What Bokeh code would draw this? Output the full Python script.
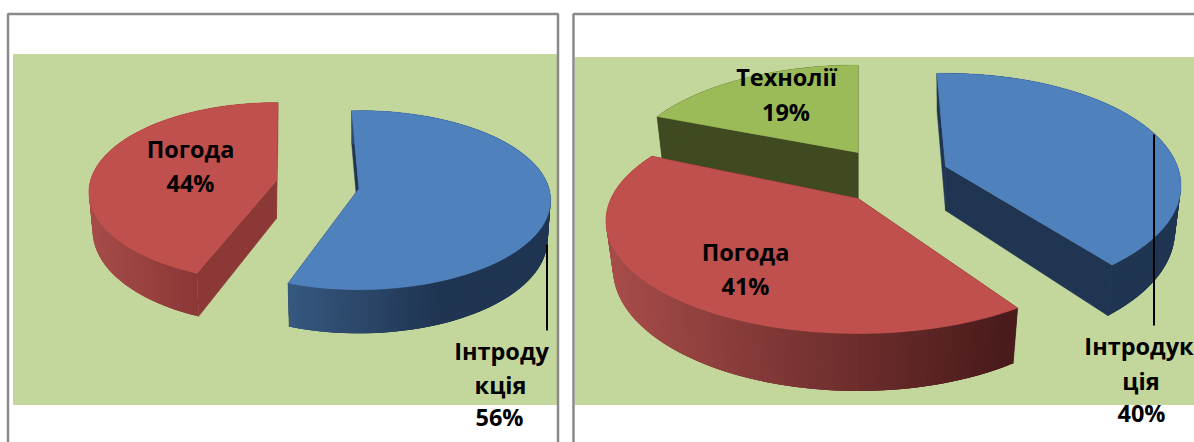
import math
from bokeh.plotting import figure
from bokeh.models import Range1d
from bokeh.core.properties import value
from bokeh.embed import file_html
from bokeh.resources import INLINE

left_categories = ["Інтродукція", "Погода"]
left_values = [56, 44]
right_categories = ["Інтродукція", "Погода", "Технології"]
right_values = [40, 41, 19]

FONT = "Open Sans"
BG = "#C3D69B"
FRAME = "#8A8A8A"
BLUE, RED, GREEN = "#4F81BD", "#C0504D", "#9BBB59"
BLUE_D, GREEN_D = "#1F3552", "#3F4A21"


def hex2rgb(c):
    return tuple(int(c[i:i + 2], 16) for i in (1, 3, 5))


def mix(c0, c1, f):
    f = max(0.0, min(1.0, f))
    a, b = hex2rgb(c0), hex2rgb(c1)
    return "#%02x%02x%02x" % tuple(round(a[i] + (b[i] - a[i]) * f) for i in range(3))


p = figure(width=1194, height=442, x_range=Range1d(0, 1194), y_range=Range1d(442, 0),
           output_backend="svg", toolbar_location=None, min_border=0,
           background_fill_color="white", border_fill_color="white",
           styles={"position": "absolute", "left": "0px", "top": "0px"})
p.axis.visible = False
p.grid.visible = False
p.outline_line_color = None

# panels
p.quad(left=[13, 575], right=[557, 1194], top=[54, 57], bottom=[404, 404], color=BG)
p.line([7.5, 7.5, 557.5, 557.5], [442, 13.5, 13.5, 442], line_color=FRAME, line_width=2.5)
p.line([573, 573, 1194], [442, 13.5, 13.5], line_color=FRAME, line_width=2.5)


def draw_slice(share, start, geo):
    ax, ay, rx, ry, persp, depth, shrink = geo["ax"], geo["ay"], geo["rx"], geo["ry"], geo["p"], geo["d"], geo["b"]
    start = start + geo.get("rot", 0)
    span = share / 100 * 360
    n = max(10, int(span / 1.2))
    ts = [math.radians(start + span * i / n) for i in range(n + 1)]

    def top(t):
        u, v = math.sin(t), -math.cos(t)
        w = 1 - persp * v
        return ax + rx * u / w, ay + ry * v / w

    def low(t):
        u, v = math.sin(t), -math.cos(t)
        w = 1 - persp * v
        return ax + rx * shrink * u / w, ay + (ry * v + depth) / w

    # side walls from the apex to both cut edges
    walls_x, walls_y = [], []
    for t in (ts[0], ts[-1]):
        tx, ty = top(t)
        lx, ly = low(t)
        walls_x.append([ax, tx, lx, ax])
        walls_y.append([ay, ty, ly, ay + depth])
    p.patches(walls_x, walls_y, fill_color=geo["wall"], line_color=geo["wall"], line_width=0.5)

    # outer rim, shaded along the horizontal; overlapping bands hide the seams
    xs, ys, cols = [], [], []
    for i in range(n):
        a, b = ts[i], ts[min(i + 3, n)]
        ta, tb, la, lb = top(a), top(b), low(a), low(b)
        xs.append([ta[0], tb[0], lb[0], la[0]])
        ys.append([ta[1], tb[1], lb[1], la[1]])
        f = (ta[0] - geo["g0"]) / (geo["g1"] - geo["g0"])
        cols.append(mix(geo["c0"], geo["c1"], f))
    p.patches(xs, ys, fill_color=cols, line_color=None)

    # upper face
    pts = [top(t) for t in ts]
    p.patch([ax] + [q[0] for q in pts], [ay] + [q[1] for q in pts],
            fill_color=geo["face"], line_color=geo["face"], line_width=0.5)
    return start + span


left_geo = {
    "Інтродукція": dict(ax=358.5, ay=188, rx=190, ry=88, p=0.13, d=38, b=0.985, rot=-1.5, face=BLUE, wall=BLUE_D,
                        c0="#36587F", c1=BLUE_D, g0=291, g1=440),
    "Погода": dict(ax=276, ay=180, rx=186, ry=88, p=0.13, d=38, b=0.98, rot=1.5, face=RED, wall="#8C3836",
                   c0="#A64C49", c1="#8C3836", g0=90, g1=197),
}
right_geo = {
    "Технології": dict(ax=857.5, ay=152, rx=232, ry=105, p=0.2, d=46, b=0.975, face=GREEN, wall=GREEN_D,
                       c0=GREEN_D, c1=GREEN_D, g0=600, g1=900),
    "Погода": dict(ax=857.5, ay=198, rx=247, ry=108, p=0.2, d=46, b=0.972, rot=3.5, face=RED, wall="#4A1B1B",
                   c0="#A64C49", c1="#4A1B1B", g0=612, g1=1008),
    "Інтродукція": dict(ax=945, ay=166, rx=232, ry=109, p=0.17, d=44, b=0.975, rot=-2.5, face=BLUE, wall=BLUE_D,
                        c0=BLUE_D, c1=BLUE_D, g0=900, g1=1200),
}

# left pie: blue first clockwise from the top, red after it
angle = -1.0
angles = {}
for c, v in zip(left_categories, left_values):
    angles[c] = angle
    angle += v * 3.6
for c in reversed(left_categories):
    draw_slice(left_values[left_categories.index(c)], angles[c], left_geo[c])

# right pie: painted back to front
angle = 0.0
angles = {}
for c, v in zip(right_categories, right_values):
    angles[c] = angle
    angle += v * 3.6
for c in ["Технології", "Погода", "Інтродукція"]:
    draw_slice(right_values[right_categories.index(c)], angles[c], right_geo[c])

# leader lines
p.line([546.5, 546.5], [244, 330], line_color="black", line_width=2)
p.line([1153.5, 1153.5], [134, 325], line_color="black", line_width=2)

# labels
labels = [
    ("Погода", 190, 148), (f"{left_values[1]}%", 190, 182),
    ("Інтроду", 501, 350), ("кція", 500, 384), (f"{left_values[0]}%", 499, 416),
    ("Технолії", 786, 76), (f"{right_values[2]}%", 785.5, 111),
    ("Погода", 745, 251), (f"{right_values[1]}%", 745, 285),
    ("Інтродук", 1138.5, 345), ("ція", 1140.5, 380), (f"{right_values[0]}%", 1141, 412),
]
p.text([l[1] for l in labels], [l[2] for l in labels], text=[l[0] for l in labels],
       text_font=value(FONT), text_font_style="bold", text_font_size="23.5px",
       text_color="black", text_align="center", text_baseline="middle")

open("out.html", "w").write(file_html(p, INLINE))
